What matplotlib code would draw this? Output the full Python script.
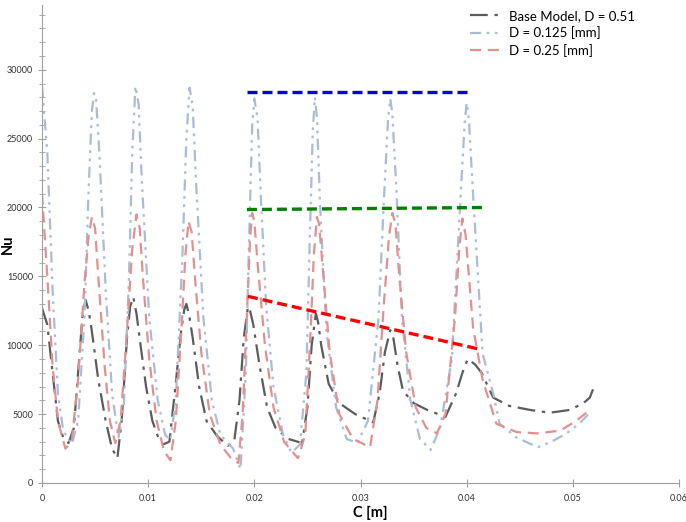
# Nu along C for the base model and two smaller D values
import numpy as np
import matplotlib
matplotlib.use("Agg")
import matplotlib.pyplot as plt

# Base Model, D = 0.51
base_x = [0.0000, 0.0005, 0.0010, 0.0015, 0.0020, 0.0025, 0.0030, 0.0035, 0.0038, 0.0041,
          0.0044, 0.0047, 0.0053, 0.0060, 0.0066, 0.0071, 0.0075, 0.0080, 0.0083, 0.0086,
          0.0089, 0.0092, 0.0098, 0.0104, 0.0110, 0.0114, 0.0120, 0.0125, 0.0131, 0.0134,
          0.0136, 0.0139, 0.0142, 0.0148, 0.0155, 0.0165, 0.0175, 0.0181, 0.0186, 0.0190,
          0.0194, 0.0196, 0.0199, 0.0205, 0.0212, 0.0220, 0.0232, 0.0245, 0.0250, 0.0254,
          0.0258, 0.0260, 0.0263, 0.0270, 0.0280, 0.0295, 0.0312, 0.0318, 0.0323, 0.0328,
          0.0331, 0.0335, 0.0340, 0.0350, 0.0363, 0.0380, 0.0390, 0.0396, 0.0401, 0.0408,
          0.0414, 0.0425, 0.0440, 0.0460, 0.0478, 0.0497, 0.0510, 0.0516, 0.0519]
base_y = [12700, 11500, 8000, 4500, 3300, 2900, 4000, 9000, 12000, 13300,
          12500, 11000, 7500, 4500, 2500, 1800, 4500, 10500, 12800, 13500,
          12300, 10500, 7000, 4500, 3200, 2800, 3000, 6500, 11000, 12600,
          13000, 12000, 10500, 7000, 4500, 3400, 2700, 3000, 6000, 10500,
          12800, 12500, 11500, 8500, 5500, 4000, 3200, 2900, 5500, 10000,
          12300, 11700, 10000, 7200, 5800, 5000, 4400, 6500, 9500, 11100,
          10500, 8500, 6700, 5800, 5300, 4800, 6500, 8000, 9000, 8600,
          8000, 6200, 5600, 5300, 5100, 5300, 5800, 6200, 6800]

# D = 0.125 [mm]
d125_x = [0.0000, 0.0005, 0.0010, 0.0015, 0.0020, 0.0028, 0.0034, 0.0040, 0.0044, 0.0047,
          0.0049, 0.0051, 0.0054, 0.0060, 0.0066, 0.0072, 0.0077, 0.0082, 0.0085, 0.0088,
          0.0091, 0.0094, 0.0101, 0.0109, 0.0116, 0.0121, 0.0126, 0.0132, 0.0136, 0.0139,
          0.0142, 0.0145, 0.0152, 0.0160, 0.0168, 0.0180, 0.0187, 0.0192, 0.0195, 0.0198,
          0.0200, 0.0203, 0.0206, 0.0211, 0.0218, 0.0227, 0.0235, 0.0243, 0.0249, 0.0252,
          0.0255, 0.0257, 0.0259, 0.0262, 0.0268, 0.0277, 0.0287, 0.0297, 0.0307, 0.0317,
          0.0322, 0.0326, 0.0328, 0.0330, 0.0334, 0.0339, 0.0347, 0.0356, 0.0366, 0.0375,
          0.0386, 0.0393, 0.0398, 0.0400, 0.0402, 0.0406, 0.0415, 0.0425, 0.0431, 0.0447,
          0.0467, 0.0480, 0.0494, 0.0506, 0.0516]
d125_y = [28800, 24000, 14000, 6500, 3800, 2800, 4500, 12000, 21500, 27000,
          28300, 27800, 24000, 14000, 6500, 3300, 5500, 15000, 24000, 28800,
          27500, 22000, 12000, 6000, 3500, 3100, 6000, 16000, 25000, 28700,
          27300, 22000, 12000, 6000, 3500, 2500, 1000, 8000, 17500, 26000,
          27900, 26500, 21000, 13000, 7000, 3500, 2200, 2800, 8000, 17000,
          25500, 28000, 26500, 20000, 11000, 5500, 3200, 2900, 4500, 12000,
          20500, 26500, 27900, 26800, 21000, 12000, 6000, 3200, 2400, 4000,
          9000, 19000, 26000, 27600, 26500, 21000, 9400, 6500, 4300, 3300,
          2600, 3000, 3600, 4300, 5100]

# D = 0.25 [mm]
d25_x = [0.0000, 0.0005, 0.0010, 0.0015, 0.0022, 0.0028, 0.0034, 0.0040, 0.0044, 0.0047,
         0.0050, 0.0053, 0.0059, 0.0064, 0.0069, 0.0074, 0.0080, 0.0085, 0.0089, 0.0092,
         0.0095, 0.0101, 0.0108, 0.0115, 0.0121, 0.0126, 0.0132, 0.0135, 0.0138, 0.0141,
         0.0144, 0.0150, 0.0158, 0.0168, 0.0178, 0.0185, 0.0189, 0.0194, 0.0196, 0.0198,
         0.0200, 0.0203, 0.0210, 0.0218, 0.0228, 0.0241, 0.0248, 0.0253, 0.0256, 0.0259,
         0.0261, 0.0264, 0.0271, 0.0280, 0.0293, 0.0309, 0.0316, 0.0322, 0.0327, 0.0330,
         0.0333, 0.0336, 0.0343, 0.0352, 0.0362, 0.0372, 0.0380, 0.0389, 0.0393, 0.0396,
         0.0399, 0.0406, 0.0415, 0.0428, 0.0447, 0.0466, 0.0488, 0.0503, 0.0516]
d25_y = [21000, 15000, 8500, 4500, 2500, 3000, 7500, 14500, 18000, 19300,
         18500, 15000, 8500, 4500, 2900, 4500, 11000, 17000, 19500, 18500,
         15000, 9000, 4500, 2300, 1650, 4500, 12000, 16500, 19000, 18200,
         15000, 9500, 5000, 2800, 1800, 1450, 5000, 14000, 17800, 19600,
         19000, 16000, 10000, 5500, 3000, 1800, 3500, 11000, 16500, 19300,
         18800, 16000, 9500, 5000, 3200, 2600, 6000, 13000, 18000, 19600,
         18800, 15500, 9500, 5500, 4000, 3600, 5000, 12000, 17000, 19200,
         18000, 11300, 7500, 4300, 3700, 3600, 3800, 4500, 5300]

# Hand-drawn guide lines (start, end)
guide_blue_x = [0.0193, 0.0405]
guide_blue_y = [28400, 28400]
guide_green_x = [0.0193, 0.0417]
guide_green_y = [19850, 20000]
guide_red_x = [0.0194, 0.0413]
guide_red_y = [13550, 9700]

plt.rcParams['font.family'] = ['Lato', 'DejaVu Sans']

fig = plt.figure(figsize=(6.86, 5.22), dpi=100)
ax = fig.add_axes([42 / 686, 1 - 483 / 522, (679 - 42) / 686, (483 - 5) / 522])

ax.plot(base_x, base_y, color="#5c5c5c", lw=1.6, dashes=(8, 3, 1.5, 3), label="Base Model, D = 0.51")
ax.plot(d125_x, d125_y, color="#a9bdd6", lw=1.6, dashes=(5, 2.5, 1.2, 2.5, 1.2, 2.5), label="D = 0.125 [mm]")
ax.plot(d25_x, d25_y, color="#e39090", lw=1.6, dashes=(5, 3), label="D = 0.25 [mm]")

ax.plot(guide_blue_x, guide_blue_y, color="#0000e0", lw=2.4, dashes=(3, 1.5))
ax.plot(guide_green_x, guide_green_y, color="#008000", lw=2.4, dashes=(3, 1.5))
ax.plot(guide_red_x, guide_red_y, color="#ff0000", lw=2.4, dashes=(3, 1.5))

ax.set_xlim(0, 0.06)
ax.set_ylim(0, 34700)
ax.set_xticks([0, 0.01, 0.02, 0.03, 0.04, 0.05, 0.06])
ax.set_xticklabels(["0", "0.01", "0.02", "0.03", "0.04", "0.05", "0.06"])
ax.set_yticks([0, 5000, 10000, 15000, 20000, 25000, 30000])
ax.set_yticks(np.arange(0, 35000, 1000), minor=True)

for side in ["top", "right"]:
    ax.spines[side].set_visible(False)
for side in ["left", "bottom"]:
    ax.spines[side].set_color("#a0a0a0")

ax.tick_params(axis="both", which="major", labelsize=6.5, colors="#a0a0a0", labelcolor="#333333",
               direction="inout", length=6)
ax.tick_params(axis="y", which="minor", colors="#a0a0a0", direction="inout", length=5)
ax.tick_params(axis="x", pad=5)

ax.set_xlabel("C [m]", fontsize=10.5, fontweight="bold")
ax.set_ylabel("Nu", fontsize=10.5, fontweight="bold")
ax.xaxis.set_label_coords(0.515, -0.047)
ax.yaxis.set_label_coords(-0.042, 0.5)

leg = ax.legend(loc="upper right", bbox_to_anchor=(0.95, 1.015), frameon=False, fontsize=9.5,
                handlelength=2.2, labelspacing=0.35)

fig.savefig("out.png", dpi=100)
